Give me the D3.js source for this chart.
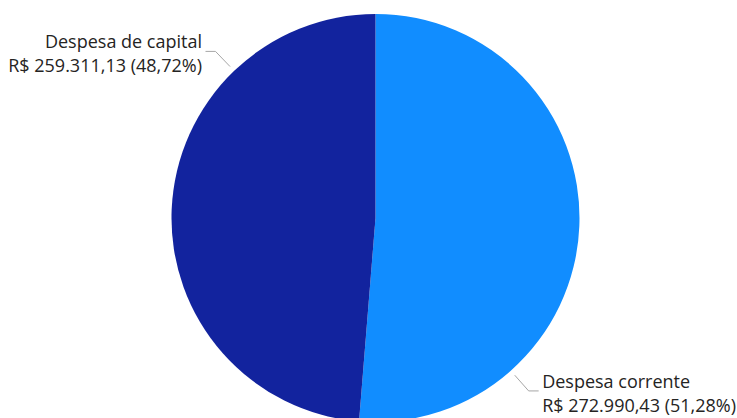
<!DOCTYPE html>
<html>
<head>
<meta charset="utf-8">
<script src="https://cdn.jsdelivr.net/npm/d3@7"></script>
<style>
  html, body { margin: 0; padding: 0; background: #fff; }
  svg { display: block; }
</style>
</head>
<body>
<svg id="chart" width="737" height="418"></svg>
<script>
// Despesas por categoria econômica
const categories = ["Despesa corrente", "Despesa de capital"];
const values = [272990.43, 259311.13];
const colors = ["#118DFF", "#12239E"];

const width = 737, height = 418;
const cx = 375.5, cy = 218, radius = 204;

const svg = d3.select("#chart");
const g = svg.append("g").attr("transform", `translate(${cx},${cy})`);

const data = categories.map((c, i) => ({ name: c, value: values[i], color: colors[i] }));
const total = d3.sum(values);

const pie = d3.pie().sort(null).value(d => d.value);
const arc = d3.arc().innerRadius(0).outerRadius(radius);
const arcs = pie(data);

g.selectAll("path.slice")
  .data(arcs)
  .join("path")
  .attr("class", "slice")
  .attr("d", arc)
  .attr("fill", d => d.data.color);

const money = d3.formatLocale({ decimal: ",", thousands: ".", grouping: [3], currency: ["R$ ", ""] });
const fmtVal = money.format("$,.2f");
const fmtPct = money.format(".2%");

const font = "'Open Sans', 'Segoe UI', sans-serif";
const fontSize = 18;
const lineGap = 24;

arcs.forEach(a => {
  // leader anchored three quarters of the way through each slice
  const ang = a.startAngle + 0.75 * (a.endAngle - a.startAngle);
  const px = r => Math.sin(ang) * r;
  const py = r => -Math.cos(ang) * r;
  const right = Math.sin(ang) > 0;
  const x0 = px(radius + 6), y0 = py(radius + 6);
  const x1 = px(radius + 27), y1 = py(radius + 27);
  const x2 = x1 + (right ? 10 : -10);
  g.append("polyline")
    .attr("points", [[x0, y0], [x1, y1], [x2, y1]].map(p => p.join(",")).join(" "))
    .attr("fill", "none")
    .attr("stroke", "#a6a6a6")
    .attr("stroke-width", 1);

  const tx = x2 + (right ? 3.5 : -3.5);
  const t = g.append("text")
    .attr("x", tx)
    .attr("y", y1 - 3)
    .attr("text-anchor", right ? "start" : "end")
    .attr("font-family", font)
    .attr("font-size", fontSize)
    .attr("fill", "#252423");
  t.append("tspan").attr("x", tx).attr("dy", 0).text(a.data.name);
  t.append("tspan").attr("x", tx).attr("dy", lineGap)
    .text(`${fmtVal(a.data.value)} (${fmtPct(a.data.value / total)})`);
});
</script>
</body>
</html>
